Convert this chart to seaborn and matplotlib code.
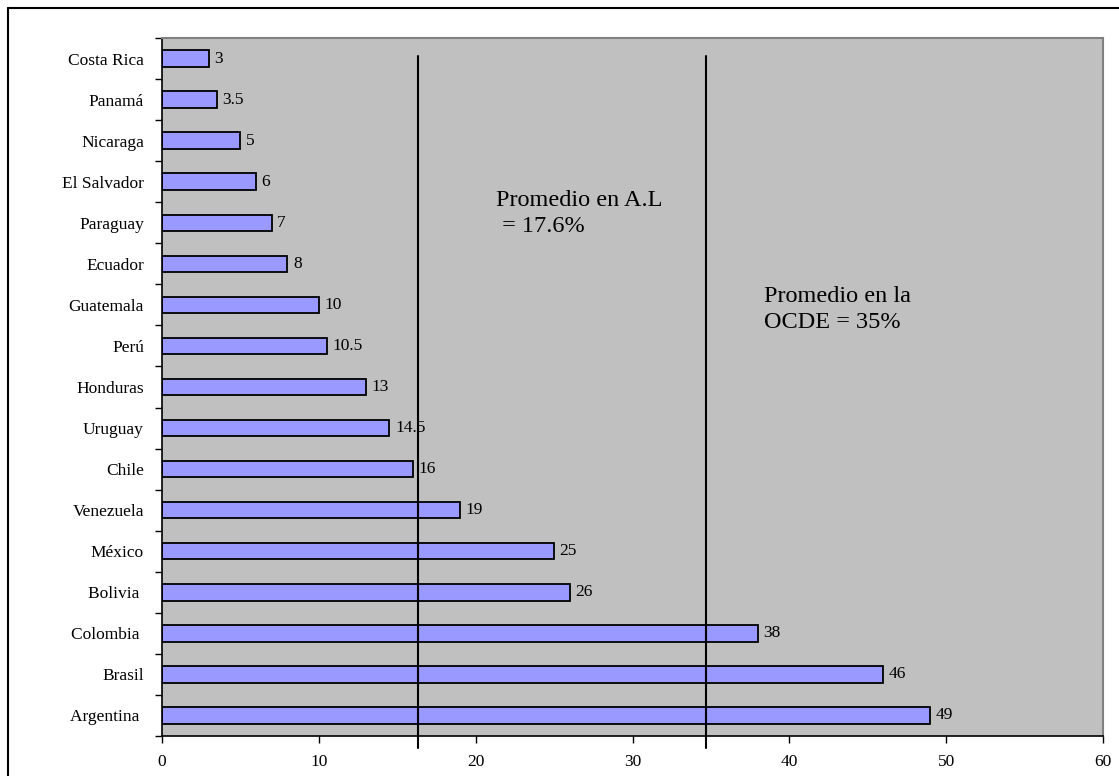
import matplotlib
matplotlib.use("Agg")
import matplotlib.pyplot as plt
from matplotlib.lines import Line2D
import seaborn as sns
import pandas as pd
import numpy as np

countries = ["Costa Rica", "Panamá", "Nicaraga", "El Salvador", "Paraguay", "Ecuador",
             "Guatemala", "Perú", "Honduras", "Uruguay", "Chile", "Venezuela",
             "México", "Bolivia ", "Colombia ", "Brasil", "Argentina "]
values = [3, 3.5, 5, 6, 7, 8, 10, 10.5, 13, 14.5, 16, 19, 25, 26, 38, 46, 49]
value_labels = ["3", "3.5", "5", "6", "7", "8", "10", "10.5", "13", "14.5", "16",
                "19", "25", "26", "38", "46", "49"]
avg_lines = [16.3, 34.7]
avg_texts = ["Promedio en A.L\n = 17.6%", "Promedio en la\nOCDE = 35%"]
avg_text_pos = [(21.3, 4.23), (38.4, 6.56)]
x_ticks = [0, 10, 20, 30, 40, 50, 60]

sns.set_style("white")
plt.rcParams["font.family"] = ["Liberation Serif", "DejaVu Serif"]
plt.rcParams["text.color"] = "black"
plt.rcParams["xtick.color"] = "black"
plt.rcParams["ytick.color"] = "black"

df = pd.DataFrame({"country": countries, "value": values})

fig = plt.figure(figsize=(11.19, 7.76), dpi=100)
ax = fig.add_axes([162/1119, 1-736/776, (1103-162)/1119, (736-38)/776])
ax.set_facecolor("#C0C0C0")

sns.barplot(data=df, x="value", y="country", order=countries, orient="h",
            color="#9999FF", edgecolor="black", linewidth=1.3, width=0.4,
            saturation=1, ax=ax)

for c in ax.containers:
    ax.bar_label(c, labels=value_labels, padding=4, fontsize=12.5, color="black")

ax.set_xlim(0, 60)
ax.set_ylim(16.5, -0.5)
ax.set_xticks(x_ticks)
ax.set_xlabel("")
ax.set_ylabel("")

# y ticks at category boundaries
ax.set_yticks(np.arange(len(countries)))
ax.set_yticklabels(countries)
ax.set_yticks(np.arange(-0.5, len(countries), 1), minor=True)
ax.tick_params(axis="y", which="major", length=0, pad=13, labelsize=12.5, labelcolor="black")
ax.tick_params(axis="y", which="minor", length=5, width=1, color="black", direction="out", left=True)
ax.tick_params(axis="x", which="major", length=5, width=1, color="black", direction="out",
               bottom=True, pad=8, labelsize=12.5, labelcolor="black")

for s in ["left", "bottom"]:
    ax.spines[s].set_color("black")
    ax.spines[s].set_linewidth(1.2)
for s in ["top", "right"]:
    ax.spines[s].set_color("#808080")
    ax.spines[s].set_linewidth(1.5)

for xv in avg_lines:
    ax.axvline(xv, ymin=-12/698, ymax=1-18/698, color="black", linewidth=1.5, clip_on=False, zorder=5)

for t, (tx, ty) in zip(avg_texts, avg_text_pos):
    ax.text(tx, ty, t, fontsize=17.5, ha="left", va="baseline", linespacing=1.33,
            color="black", zorder=6)

# figure border
fig.add_artist(Line2D([8/1119, 8/1119], [0, 1-8/776], color="black", linewidth=1.5, transform=fig.transFigure))
fig.add_artist(Line2D([8/1119, 1], [1-8/776, 1-8/776], color="black", linewidth=1.5, transform=fig.transFigure))

fig.savefig("out.png", dpi=100)
